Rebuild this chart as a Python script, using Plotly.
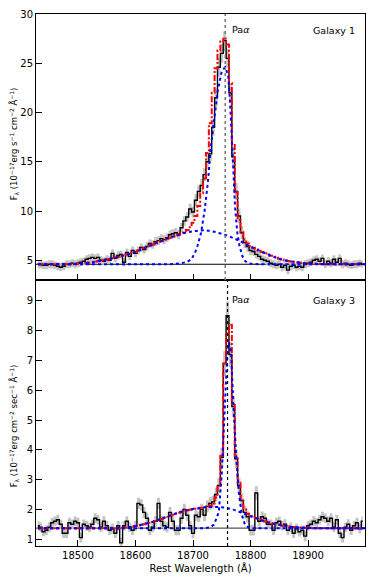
import plotly.graph_objects as go
from plotly.subplots import make_subplots

# ---------------- data ----------------
wl = [18430, 18435, 18440, 18445, 18450, 18455, 18460, 18465, 18470, 18475,
      18480, 18485, 18490, 18495, 18500, 18505, 18510, 18515, 18520, 18525,
      18530, 18535, 18540, 18545, 18550, 18555, 18560, 18565, 18570, 18575,
      18580, 18585, 18590, 18595, 18600, 18605, 18610, 18615, 18620, 18625,
      18630, 18635, 18640, 18645, 18650, 18655, 18660, 18665, 18670, 18675,
      18680, 18685, 18690, 18695, 18700, 18705, 18710, 18715, 18720, 18725,
      18730, 18735, 18740, 18745, 18750, 18755, 18760, 18765, 18770, 18775,
      18780, 18785, 18790, 18795, 18800, 18805, 18810, 18815, 18820, 18825,
      18830, 18835, 18840, 18845, 18850, 18855, 18860, 18865, 18870, 18875,
      18880, 18885, 18890, 18895, 18900, 18905, 18910, 18915, 18920, 18925,
      18930, 18935, 18940, 18945, 18950, 18955, 18960, 18965, 18970, 18975,
      18980, 18985, 18990, 18995]

# Galaxy 1
flux1 = [4.6, 4.6, 4.5, 4.5, 4.6, 4.6, 4.5, 4.4, 4.3, 4.4,
         4.6, 4.6, 4.7, 4.6, 4.7, 4.8, 4.9, 5.1, 5.2, 5.3,
         5.2, 5.3, 5.0, 4.9, 5.1, 5.0, 5.7, 5.2, 5.5, 5.6,
         4.8, 5.8, 5.4, 6.0, 5.7, 6.0, 6.3, 6.1, 6.4, 6.7,
         6.6, 6.9, 7.0, 7.2, 7.1, 7.3, 7.6, 7.7, 7.8, 7.6,
         8.3, 9.0, 9.4, 10.2, 9.9, 11.1, 12.0, 12.6, 13.7, 15.0,
         15.8, 18.5, 21.5, 24.6, 26.0, 27.3, 25.5, 22.0, 15.5, 12.0,
         9.5, 7.8, 6.8, 6.4, 6.0, 5.9, 5.6, 5.4, 5.1, 5.0,
         4.9, 4.7, 4.6, 4.5, 4.6, 4.3, 4.5, 4.0, 4.4, 4.5,
         4.3, 4.4, 4.3, 4.6, 4.7, 4.8, 5.0, 5.1, 4.9, 5.2,
         4.6, 4.9, 4.7, 5.1, 4.8, 5.2, 4.6, 4.7, 4.6, 4.5,
         4.6, 4.6, 4.7, 4.6]
err1 = [0.4, 0.4, 0.39, 0.4, 0.41, 0.4, 0.39, 0.4, 0.41, 0.4,
        0.4, 0.39, 0.4, 0.41, 0.4, 0.4, 0.39, 0.4, 0.41, 0.4,
        0.4, 0.39, 0.4, 0.41, 0.4, 0.4, 0.41, 0.4, 0.41, 0.4,
        0.4, 0.41, 0.4, 0.41, 0.4, 0.41, 0.42, 0.41, 0.42, 0.43,
        0.43, 0.43, 0.44, 0.45, 0.45, 0.45, 0.46, 0.46, 0.47, 0.47,
        0.48, 0.5, 0.5, 0.55, 0.55, 0.6, 0.6, 0.65, 0.65, 0.75,
        0.75, 0.85, 0.95, 0.95, 0.95, 0.95, 0.95, 0.95, 0.9, 0.85,
        0.75, 0.65, 0.55, 0.5, 0.47, 0.45, 0.45, 0.43, 0.42, 0.41,
        0.41, 0.4, 0.4, 0.4, 0.41, 0.4, 0.4, 0.41, 0.4, 0.4,
        0.4, 0.41, 0.4, 0.4, 0.41, 0.4, 0.4, 0.41, 0.4, 0.4,
        0.41, 0.4, 0.4, 0.41, 0.4, 0.4, 0.41, 0.4, 0.4, 0.39,
        0.4, 0.4, 0.39, 0.4]
model1 = [4.6, 4.6, 4.6, 4.6, 4.6, 4.6, 4.6, 4.6, 4.6, 4.6,
          4.6, 4.6, 4.6, 4.62, 4.65, 4.67, 4.7, 4.72, 4.75, 4.8,
          4.85, 4.9, 4.95, 5.0, 5.07, 5.13, 5.2, 5.27, 5.35, 5.42,
          5.5, 5.58, 5.67, 5.76, 5.85, 5.97, 6.1, 6.22, 6.35, 6.47,
          6.6, 6.72, 6.85, 6.96, 7.08, 7.19, 7.3, 7.4, 7.5, 7.6,
          7.8, 7.94, 8.08, 8.35, 8.8, 9.5, 10.5, 11.8, 13.3, 15.9,
          18.9, 22.0, 24.5, 26.3, 27.2, 27.5, 26.9, 23.0, 16.7, 11.9,
          9.1, 7.85, 7.1, 6.7, 6.45, 6.28, 6.12, 5.98, 5.85, 5.72,
          5.6, 5.47, 5.35, 5.25, 5.16, 5.08, 5.0, 4.94, 4.89, 4.84,
          4.8, 4.77, 4.73, 4.7, 4.68, 4.66, 4.65, 4.63, 4.62, 4.61,
          4.61, 4.6, 4.6, 4.6, 4.6, 4.6, 4.6, 4.6, 4.6, 4.6,
          4.6, 4.6, 4.6, 4.6]
comp_wl = [18420, 18430, 18440, 18450, 18460, 18470, 18480, 18490, 18500, 18510,
           18520, 18530, 18540, 18550, 18560, 18570, 18580, 18590, 18600, 18610,
           18620, 18630, 18640, 18650, 18660, 18670, 18680, 18690, 18700, 18710,
           18720, 18730, 18740, 18750, 18760, 18770, 18780, 18790, 18800, 18810,
           18820, 18830, 18840, 18850, 18860, 18870, 18880, 18890, 18900, 18910,
           18920, 18930, 18940, 18950, 18960, 18970, 18980, 18990, 19000]
broad1 = [4.6, 4.6, 4.6, 4.6, 4.6, 4.6, 4.6, 4.61, 4.65, 4.7,
          4.75, 4.85, 4.95, 5.07, 5.2, 5.35, 5.5, 5.67, 5.85, 6.1,
          6.35, 6.6, 6.85, 7.08, 7.3, 7.5, 7.7, 7.83, 7.95, 8.01,
          8.05, 7.98, 7.85, 7.68, 7.5, 7.25, 7.0, 6.7, 6.4, 6.12,
          5.85, 5.6, 5.35, 5.16, 5.0, 4.89, 4.8, 4.73, 4.68, 4.65,
          4.62, 4.61, 4.6, 4.6, 4.6, 4.6, 4.6, 4.6, 4.6]
narrow1_wl = [18420, 18660, 18680, 18690, 18697, 18703, 18708, 18714, 18720, 18726,
              18731, 18737, 18743, 18750, 18756, 18761, 18764, 18767, 18770, 18773,
              18777, 18781, 18786, 18791, 18797, 18805, 18815, 19000]
narrow1 = [4.6, 4.6, 4.7, 4.85, 5.1, 5.7, 6.5, 7.8, 10.0, 13.0,
           16.5, 19.5, 22.2, 24.2, 24.6, 23.8, 21.5, 18.0, 14.0, 10.5,
           7.8, 6.4, 5.4, 4.9, 4.7, 4.62, 4.6, 4.6]
cont1 = 4.6
line1 = 18756

# Galaxy 3
flux3 = [1.45, 1.4, 1.25, 1.3, 1.4, 1.55, 1.6, 1.65, 1.5, 1.2,
         1.2, 1.55, 1.5, 1.6, 1.55, 1.05, 1.5, 1.45, 1.4, 1.5,
         1.7, 1.65, 1.4, 1.6, 1.45, 1.3, 1.35, 1.2, 1.45, 0.88,
         1.45, 1.6, 1.4, 1.3, 1.45, 2.2, 2.15, 1.9, 1.7, 1.3,
         1.4, 1.6, 2.2, 1.6, 1.45, 1.4, 1.9, 1.6, 1.3, 1.3,
         1.7, 2.0, 1.8, 1.45, 1.2, 1.8, 1.75, 2.0, 1.8, 2.1,
         2.2, 2.25, 2.5, 2.8, 3.75, 6.9, 8.5, 7.2, 5.45, 3.7,
         2.8, 2.3, 1.9, 1.75, 1.3, 1.3, 2.55, 1.6, 1.75, 1.7,
         1.5, 1.5, 1.3, 1.55, 1.6, 1.45, 1.5, 1.3, 1.4, 1.2,
         1.35, 1.25, 1.3, 1.1, 1.45, 1.5, 1.6, 1.55, 1.65, 1.75,
         1.7, 1.6, 1.7, 1.4, 1.65, 1.2, 1.05, 1.4, 1.5, 1.3,
         1.45, 1.55, 1.35, 1.6]
err3 = [0.16, 0.16, 0.15, 0.16, 0.17, 0.16, 0.16, 0.17, 0.16, 0.16,
        0.16, 0.17, 0.16, 0.16, 0.17, 0.16, 0.16, 0.17, 0.16, 0.16,
        0.17, 0.16, 0.16, 0.17, 0.16, 0.16, 0.17, 0.16, 0.16, 0.17,
        0.16, 0.17, 0.16, 0.16, 0.17, 0.19, 0.19, 0.18, 0.17, 0.16,
        0.17, 0.18, 0.19, 0.18, 0.17, 0.17, 0.18, 0.17, 0.17, 0.17,
        0.18, 0.19, 0.18, 0.17, 0.17, 0.18, 0.18, 0.19, 0.19, 0.2,
        0.21, 0.21, 0.23, 0.26, 0.32, 0.42, 0.48, 0.42, 0.37, 0.32,
        0.26, 0.23, 0.21, 0.19, 0.18, 0.18, 0.23, 0.18, 0.18, 0.17,
        0.17, 0.16, 0.16, 0.17, 0.16, 0.16, 0.17, 0.16, 0.16, 0.16,
        0.17, 0.16, 0.16, 0.17, 0.16, 0.16, 0.17, 0.16, 0.16, 0.17,
        0.16, 0.16, 0.17, 0.16, 0.16, 0.17, 0.16, 0.16, 0.17, 0.16,
        0.16, 0.17, 0.16, 0.16]
model3 = [1.37, 1.37, 1.37, 1.37, 1.37, 1.37, 1.37, 1.37, 1.37, 1.37,
          1.37, 1.37, 1.37, 1.37, 1.37, 1.37, 1.37, 1.37, 1.37, 1.37,
          1.37, 1.37, 1.37, 1.37, 1.37, 1.37, 1.37, 1.37, 1.37, 1.38,
          1.39, 1.4, 1.41, 1.42, 1.44, 1.46, 1.48, 1.5, 1.53, 1.55,
          1.58, 1.61, 1.65, 1.68, 1.72, 1.75, 1.79, 1.82, 1.86, 1.89,
          1.92, 1.95, 1.97, 1.99, 2.01, 2.02, 2.04, 2.05, 2.07, 2.09,
          2.12, 2.2, 2.4, 2.75, 3.8, 6.9, 7.9, 8.2, 5.5, 3.8,
          2.9, 2.3, 2.0, 1.85, 1.77, 1.73, 1.7, 1.66, 1.63, 1.6,
          1.57, 1.54, 1.52, 1.5, 1.48, 1.46, 1.45, 1.43, 1.42, 1.41,
          1.4, 1.39, 1.39, 1.38, 1.38, 1.37, 1.37, 1.37, 1.37, 1.37,
          1.37, 1.37, 1.37, 1.37, 1.37, 1.37, 1.37, 1.37, 1.37, 1.37,
          1.37, 1.37, 1.37, 1.37]
broad3 = [1.37, 1.37, 1.37, 1.37, 1.37, 1.37, 1.37, 1.37, 1.37, 1.37,
          1.37, 1.37, 1.37, 1.37, 1.37, 1.37, 1.39, 1.41, 1.44, 1.48,
          1.53, 1.58, 1.65, 1.72, 1.79, 1.86, 1.92, 1.97, 2.01, 2.04,
          2.07, 2.08, 2.08, 2.07, 2.04, 1.99, 1.92, 1.85, 1.77, 1.7,
          1.63, 1.57, 1.52, 1.48, 1.45, 1.42, 1.4, 1.39, 1.38, 1.37,
          1.37, 1.37, 1.37, 1.37, 1.37, 1.37, 1.37, 1.37, 1.37]
narrow3_wl = [18420, 18720, 18730, 18736, 18741, 18745, 18750, 18755, 18759, 18762,
              18766, 18770, 18775, 18780, 18785, 18790, 18796, 18805, 19000]
narrow3 = [1.37, 1.37, 1.4, 1.48, 1.7, 1.95, 3.2, 5.3, 7.0, 7.6,
           7.3, 5.6, 3.8, 2.5, 1.8, 1.5, 1.4, 1.37, 1.37]
cont3 = 1.37
line3 = 18760

x_ticks = [18500, 18600, 18700, 18800, 18900]
x_ticklabels = ["18500", "18600", "18700", "18800", "18900"]
y1_ticks = [5, 10, 15, 20, 25, 30]
y3_ticks = [1, 2, 3, 4, 5, 6, 7, 8, 9]
x_range = [18427, 18999]
y1_range = [3, 30]
y3_range = [0.77, 9.7]

# ---------------- figure ----------------
FONT = "DejaVu Sans"
fig = make_subplots(rows=2, cols=1, shared_xaxes=True, vertical_spacing=0)

def add_panel(row, flux, err, model, broad, nwl, narrow):
    lo = [f - e for f, e in zip(flux, err)]
    hi = [f + e for f, e in zip(flux, err)]
    fig.add_trace(go.Scatter(x=wl, y=lo, mode="lines", line=dict(width=0, shape="hvh"),
                             hoverinfo="skip", showlegend=False), row=row, col=1)
    fig.add_trace(go.Scatter(x=wl, y=hi, mode="lines", line=dict(width=0, shape="hvh"),
                             fill="tonexty", fillcolor="rgb(196,196,196)",
                             hoverinfo="skip", showlegend=False), row=row, col=1)
    fig.add_trace(go.Scatter(x=wl, y=flux, mode="lines",
                             line=dict(color="black", width=1.4, shape="hvh"),
                             showlegend=False), row=row, col=1)
    fig.add_trace(go.Scatter(x=wl, y=model, mode="lines",
                             line=dict(color="#ff0000", width=2, shape="hvh",
                                       dash="6px,2px,2px,2px"),
                             showlegend=False), row=row, col=1)
    fig.add_trace(go.Scatter(x=comp_wl, y=broad, mode="lines",
                             line=dict(color="#0000ff", width=2, shape="spline", dash="dot"),
                             showlegend=False), row=row, col=1)
    fig.add_trace(go.Scatter(x=nwl, y=narrow, mode="lines",
                             line=dict(color="#0000ff", width=2, dash="dot"),
                             showlegend=False), row=row, col=1)

add_panel(1, flux1, err1, model1, broad1, narrow1_wl, narrow1)
add_panel(2, flux3, err3, model3, broad3, narrow3_wl, narrow3)

# continuum lines and Pa-alpha markers
fig.add_shape(type="line", xref="x domain", yref="y", x0=0, x1=1, y0=cont1, y1=cont1,
              line=dict(color="black", width=1.2), layer="below")
fig.add_shape(type="line", xref="x2 domain", yref="y2", x0=0, x1=1, y0=cont3, y1=cont3,
              line=dict(color="#555555", width=1.4), layer="below")
fig.add_shape(type="line", xref="x", yref="y domain", x0=line1, x1=line1, y0=0, y1=1,
              line=dict(color="#777777", width=1.5, dash="dot"))
fig.add_shape(type="line", xref="x2", yref="y2 domain", x0=line3, x1=line3, y0=0, y1=1,
              line=dict(color="black", width=1.2, dash="dot"))

axis_common = dict(showline=True, linecolor="black", linewidth=1, mirror=True,
                   ticks="inside", ticklen=6, tickcolor="black", showgrid=False,
                   zeroline=False, tickfont=dict(family=FONT, size=10, color="black"))
fig.update_xaxes(range=x_range, tickvals=x_ticks, ticktext=x_ticklabels, **axis_common)
fig.update_xaxes(showticklabels=False, row=1, col=1)
fig.update_xaxes(title=dict(text="Rest Wavelength (Å)", font=dict(family=FONT, size=10, color="black"),
                            standoff=4), row=2, col=1)
fig.update_yaxes(range=y1_range, tickvals=y1_ticks, row=1, col=1, **axis_common)
fig.update_yaxes(range=y3_range, tickvals=y3_ticks, row=2, col=1, **axis_common)

ann_font = dict(family=FONT, size=9.5, color="black")
fig.add_annotation(x=line1 + 8, y=28.4, xref="x", yref="y", text="Pa<i>α</i>",
                   showarrow=False, xanchor="left", font=ann_font)
fig.add_annotation(x=18985, y=28.3, xref="x", yref="y", text="Galaxy 1",
                   showarrow=False, xanchor="right", font=ann_font)
fig.add_annotation(x=line3 + 5, y=9.05, xref="x2", yref="y2", text="Pa<i>α</i>",
                   showarrow=False, xanchor="left", font=ann_font)
fig.add_annotation(x=18985, y=9.0, xref="x2", yref="y2", text="Galaxy 3",
                   showarrow=False, xanchor="right", font=ann_font)

fig.add_annotation(x=0, y=0.51, xref="paper", yref="y domain", xshift=-30,
                   text="F<sub>λ</sub> (10<sup>−17</sup>erg s<sup>−1</sup> cm<sup>−2</sup> Å<sup>−1</sup>)",
                   textangle=-90, showarrow=False, font=dict(family=FONT, size=8.5, color="black"))
fig.add_annotation(x=0, y=0.45, xref="paper", yref="y2 domain", xshift=-30,
                   text="F<sub>λ</sub> (10<sup>−17</sup>erg cm<sup>−2</sup> sec<sup>−1</sup> Å<sup>−1</sup>)",
                   textangle=-90, showarrow=False, font=dict(family=FONT, size=8.5, color="black"))

fig.update_layout(width=374, height=581, margin=dict(l=36, r=8, t=10, b=35),
                  plot_bgcolor="white", paper_bgcolor="white", showlegend=False,
                  font=dict(family=FONT, size=10, color="black"))

fig.write_html("out.html", config={"displayModeBar": False},
               post_script="document.body.style.margin='0px';")
